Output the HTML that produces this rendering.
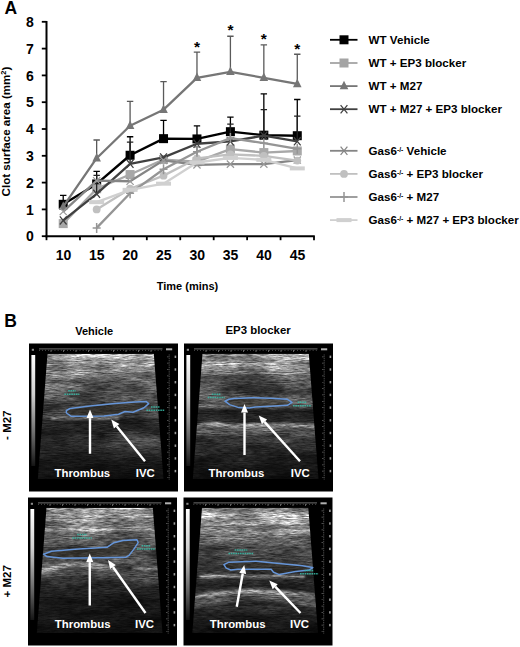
<!DOCTYPE html>
<html><head><meta charset="utf-8"><style>
html,body{margin:0;padding:0;background:#fff;}
svg{display:block;}
text{font-family:"Liberation Sans",sans-serif;}
</style></head><body>
<svg width="520" height="647" viewBox="0 0 520 647">
<rect width="520" height="647" fill="#fff"/>
<line x1="46.5" y1="20.999999999999982" x2="46.5" y2="237.2" stroke="#000" stroke-width="2"/>
<line x1="45.5" y1="236.2" x2="314.8" y2="236.2" stroke="#000" stroke-width="2"/>
<line x1="41.8" y1="236.20" x2="46.5" y2="236.20" stroke="#000" stroke-width="1.8"/>
<text x="33.8" y="241.30" text-anchor="end" font-size="14" font-weight="bold" >0</text>
<line x1="41.8" y1="209.40" x2="46.5" y2="209.40" stroke="#000" stroke-width="1.8"/>
<text x="33.8" y="214.50" text-anchor="end" font-size="14" font-weight="bold" >1</text>
<line x1="41.8" y1="182.60" x2="46.5" y2="182.60" stroke="#000" stroke-width="1.8"/>
<text x="33.8" y="187.70" text-anchor="end" font-size="14" font-weight="bold" >2</text>
<line x1="41.8" y1="155.80" x2="46.5" y2="155.80" stroke="#000" stroke-width="1.8"/>
<text x="33.8" y="160.90" text-anchor="end" font-size="14" font-weight="bold" >3</text>
<line x1="41.8" y1="129.00" x2="46.5" y2="129.00" stroke="#000" stroke-width="1.8"/>
<text x="33.8" y="134.10" text-anchor="end" font-size="14" font-weight="bold" >4</text>
<line x1="41.8" y1="102.20" x2="46.5" y2="102.20" stroke="#000" stroke-width="1.8"/>
<text x="33.8" y="107.30" text-anchor="end" font-size="14" font-weight="bold" >5</text>
<line x1="41.8" y1="75.40" x2="46.5" y2="75.40" stroke="#000" stroke-width="1.8"/>
<text x="33.8" y="80.50" text-anchor="end" font-size="14" font-weight="bold" >6</text>
<line x1="41.8" y1="48.60" x2="46.5" y2="48.60" stroke="#000" stroke-width="1.8"/>
<text x="33.8" y="53.70" text-anchor="end" font-size="14" font-weight="bold" >7</text>
<line x1="41.8" y1="21.80" x2="46.5" y2="21.80" stroke="#000" stroke-width="1.8"/>
<text x="33.8" y="26.90" text-anchor="end" font-size="14" font-weight="bold" >8</text>
<line x1="46.50" y1="236.2" x2="46.50" y2="240.2" stroke="#000" stroke-width="1.8"/>
<line x1="79.94" y1="236.2" x2="79.94" y2="240.2" stroke="#000" stroke-width="1.8"/>
<line x1="113.38" y1="236.2" x2="113.38" y2="240.2" stroke="#000" stroke-width="1.8"/>
<line x1="146.81" y1="236.2" x2="146.81" y2="240.2" stroke="#000" stroke-width="1.8"/>
<line x1="180.25" y1="236.2" x2="180.25" y2="240.2" stroke="#000" stroke-width="1.8"/>
<line x1="213.69" y1="236.2" x2="213.69" y2="240.2" stroke="#000" stroke-width="1.8"/>
<line x1="247.12" y1="236.2" x2="247.12" y2="240.2" stroke="#000" stroke-width="1.8"/>
<line x1="280.56" y1="236.2" x2="280.56" y2="240.2" stroke="#000" stroke-width="1.8"/>
<line x1="314.00" y1="236.2" x2="314.00" y2="240.2" stroke="#000" stroke-width="1.8"/>
<text x="63.42" y="259.6" text-anchor="middle" font-size="14" font-weight="bold" >10</text>
<text x="96.86" y="259.6" text-anchor="middle" font-size="14" font-weight="bold" >15</text>
<text x="130.29" y="259.6" text-anchor="middle" font-size="14" font-weight="bold" >20</text>
<text x="163.73" y="259.6" text-anchor="middle" font-size="14" font-weight="bold" >25</text>
<text x="197.17" y="259.6" text-anchor="middle" font-size="14" font-weight="bold" >30</text>
<text x="230.61" y="259.6" text-anchor="middle" font-size="14" font-weight="bold" >35</text>
<text x="264.04" y="259.6" text-anchor="middle" font-size="14" font-weight="bold" >40</text>
<text x="297.48" y="259.6" text-anchor="middle" font-size="14" font-weight="bold" >45</text>
<text x="187.5" y="290.2" text-anchor="middle" font-size="11" font-weight="bold" >Time (mins)</text>
<text transform="translate(10,131.5) rotate(-90)" text-anchor="middle" font-size="11.6" font-weight="bold" >Clot surface area (mm<tspan font-size="7.5" dy="-4">2</tspan><tspan dy="4">)</tspan></text>
<text x="4.5" y="13.8" font-size="17.5" font-weight="bold" >A</text>
<text x="4.3" y="326.6" font-size="17.5" font-weight="bold" >B</text>
<path d="M63.22 195.46V204.31M60.02 195.46H66.42" stroke="#000" stroke-width="1.3" fill="none"/>
<path d="M96.66 171.34V183.94M93.46 171.34H99.86" stroke="#000" stroke-width="1.3" fill="none"/>
<path d="M130.09 136.77V155.26M126.89 136.77H133.29" stroke="#000" stroke-width="1.3" fill="none"/>
<path d="M163.53 120.42V138.65M160.33 120.42H166.73" stroke="#000" stroke-width="1.3" fill="none"/>
<path d="M196.97 125.78V138.92M193.77 125.78H200.17" stroke="#000" stroke-width="1.3" fill="none"/>
<path d="M230.41 117.21V131.68M227.21 117.21H233.61" stroke="#000" stroke-width="1.3" fill="none"/>
<path d="M263.84 93.89V135.16M260.64 93.89H267.04" stroke="#000" stroke-width="1.3" fill="none"/>
<path d="M297.28 99.52V135.70M294.08 99.52H300.48" stroke="#000" stroke-width="1.3" fill="none"/>
<path d="M63.22 204.31 L96.66 183.94 L130.09 155.26 L163.53 138.65 L196.97 138.92 L230.41 131.68 L263.84 135.16 L297.28 135.70" stroke="#000000" stroke-width="2.4" fill="none" stroke-linejoin="round"/>
<rect x="58.72" y="199.81" width="9.0" height="9.0" fill="#000000"/>
<rect x="92.16" y="179.44" width="9.0" height="9.0" fill="#000000"/>
<rect x="125.59" y="150.76" width="9.0" height="9.0" fill="#000000"/>
<rect x="159.03" y="134.15" width="9.0" height="9.0" fill="#000000"/>
<rect x="192.47" y="134.42" width="9.0" height="9.0" fill="#000000"/>
<rect x="225.91" y="127.18" width="9.0" height="9.0" fill="#000000"/>
<rect x="259.34" y="130.66" width="9.0" height="9.0" fill="#000000"/>
<rect x="292.78" y="131.20" width="9.0" height="9.0" fill="#000000"/>
<path d="M63.22 223.60 L96.66 188.76 L130.09 174.56 L163.53 159.55 L196.97 161.70 L230.41 149.10 L263.84 152.58 L297.28 150.98" stroke="#a8a8a8" stroke-width="2.3" fill="none" stroke-linejoin="round"/>
<rect x="58.72" y="219.10" width="9.0" height="9.0" fill="#a8a8a8"/>
<rect x="92.16" y="184.26" width="9.0" height="9.0" fill="#a8a8a8"/>
<rect x="125.59" y="170.06" width="9.0" height="9.0" fill="#a8a8a8"/>
<rect x="159.03" y="155.05" width="9.0" height="9.0" fill="#a8a8a8"/>
<rect x="192.47" y="157.20" width="9.0" height="9.0" fill="#a8a8a8"/>
<rect x="225.91" y="144.60" width="9.0" height="9.0" fill="#a8a8a8"/>
<rect x="259.34" y="148.08" width="9.0" height="9.0" fill="#a8a8a8"/>
<rect x="292.78" y="146.48" width="9.0" height="9.0" fill="#a8a8a8"/>
<path d="M96.66 139.99V158.21M93.46 139.99H99.86" stroke="#5a5a5a" stroke-width="1.3" fill="none"/>
<path d="M130.09 101.40V125.78M126.89 101.40H133.29" stroke="#5a5a5a" stroke-width="1.3" fill="none"/>
<path d="M163.53 81.56V109.70M160.33 81.56H166.73" stroke="#5a5a5a" stroke-width="1.3" fill="none"/>
<path d="M196.97 52.08V77.81M193.77 52.08H200.17" stroke="#5a5a5a" stroke-width="1.3" fill="none"/>
<path d="M230.41 36.27V71.92M227.21 36.27H233.61" stroke="#5a5a5a" stroke-width="1.3" fill="none"/>
<path d="M263.84 44.85V77.81M260.64 44.85H267.04" stroke="#5a5a5a" stroke-width="1.3" fill="none"/>
<path d="M297.28 54.23V83.98M294.08 54.23H300.48" stroke="#5a5a5a" stroke-width="1.3" fill="none"/>
<path d="M63.22 206.72 L96.66 158.21 L130.09 125.78 L163.53 109.70 L196.97 77.81 L230.41 71.92 L263.84 77.81 L297.28 83.98" stroke="#767676" stroke-width="2.3" fill="none" stroke-linejoin="round"/>
<path d="M63.22 201.42 L67.52 209.92 L58.92 209.92Z" fill="#767676"/>
<path d="M96.66 152.91 L100.96 161.41 L92.36 161.41Z" fill="#767676"/>
<path d="M130.09 120.48 L134.39 128.98 L125.79 128.98Z" fill="#767676"/>
<path d="M163.53 104.40 L167.83 112.90 L159.23 112.90Z" fill="#767676"/>
<path d="M196.97 72.51 L201.27 81.01 L192.67 81.01Z" fill="#767676"/>
<path d="M230.41 66.62 L234.71 75.12 L226.11 75.12Z" fill="#767676"/>
<path d="M263.84 72.51 L268.14 81.01 L259.54 81.01Z" fill="#767676"/>
<path d="M297.28 78.68 L301.58 87.18 L292.98 87.18Z" fill="#767676"/>
<path d="M96.66 175.36V193.86M93.46 175.36H99.86" stroke="#222" stroke-width="1.3" fill="none"/>
<path d="M130.09 142.13V163.84M126.89 142.13H133.29" stroke="#222" stroke-width="1.3" fill="none"/>
<path d="M230.41 124.18V141.33M227.21 124.18H233.61" stroke="#222" stroke-width="1.3" fill="none"/>
<path d="M263.84 109.70V135.70M260.64 109.70H267.04" stroke="#222" stroke-width="1.3" fill="none"/>
<path d="M297.28 116.14V141.33M294.08 116.14H300.48" stroke="#222" stroke-width="1.3" fill="none"/>
<path d="M63.22 220.39 L96.66 193.86 L130.09 163.84 L163.53 157.41 L196.97 143.74 L230.41 141.33 L263.84 135.70 L297.28 141.33" stroke="#404040" stroke-width="2.3" fill="none" stroke-linejoin="round"/>
<path d="M59.82 216.29L66.62 224.49M66.62 216.29L59.82 224.49" stroke="#404040" stroke-width="1.25"/>
<path d="M93.26 189.76L100.06 197.96M100.06 189.76L93.26 197.96" stroke="#404040" stroke-width="1.25"/>
<path d="M126.69 159.74L133.49 167.94M133.49 159.74L126.69 167.94" stroke="#404040" stroke-width="1.25"/>
<path d="M160.13 153.31L166.93 161.51M166.93 153.31L160.13 161.51" stroke="#404040" stroke-width="1.25"/>
<path d="M193.57 139.64L200.37 147.84M200.37 139.64L193.57 147.84" stroke="#404040" stroke-width="1.25"/>
<path d="M227.01 137.23L233.81 145.43M233.81 137.23L227.01 145.43" stroke="#404040" stroke-width="1.25"/>
<path d="M260.44 131.60L267.24 139.80M267.24 131.60L260.44 139.80" stroke="#404040" stroke-width="1.25"/>
<path d="M293.88 137.23L300.68 145.43M300.68 137.23L293.88 145.43" stroke="#404040" stroke-width="1.25"/>
<path d="M196.97 146.96V164.91M193.77 146.96H200.17" stroke="#666" stroke-width="1.3" fill="none"/>
<path d="M63.22 211.54 L96.66 180.72 L130.09 181.26 L163.53 160.36 L196.97 164.91 L230.41 164.11 L263.84 164.11 L297.28 160.09" stroke="#858585" stroke-width="2.3" fill="none" stroke-linejoin="round"/>
<path d="M59.62 207.94L66.82 215.14M66.82 207.94L59.62 215.14" stroke="#999" stroke-width="1.2"/>
<path d="M93.06 177.12L100.26 184.32M100.26 177.12L93.06 184.32" stroke="#999" stroke-width="1.2"/>
<path d="M126.49 177.66L133.69 184.86M133.69 177.66L126.49 184.86" stroke="#999" stroke-width="1.2"/>
<path d="M159.93 156.76L167.13 163.96M167.13 156.76L159.93 163.96" stroke="#999" stroke-width="1.2"/>
<path d="M193.37 161.31L200.57 168.51M200.57 161.31L193.37 168.51" stroke="#999" stroke-width="1.2"/>
<path d="M226.81 160.51L234.01 167.71M234.01 160.51L226.81 167.71" stroke="#999" stroke-width="1.2"/>
<path d="M260.24 160.51L267.44 167.71M267.44 160.51L260.24 167.71" stroke="#999" stroke-width="1.2"/>
<path d="M293.68 156.49L300.88 163.69M300.88 156.49L293.68 163.69" stroke="#999" stroke-width="1.2"/>
<path d="M96.66 209.40 L130.09 188.76 L163.53 175.63 L196.97 158.48 L230.41 154.46 L263.84 155.80 L297.28 160.62" stroke="#c0c0c0" stroke-width="2.3" fill="none" stroke-linejoin="round"/>
<circle cx="96.66" cy="209.40" r="3.9" fill="#c0c0c0"/>
<circle cx="130.09" cy="188.76" r="3.9" fill="#c0c0c0"/>
<circle cx="163.53" cy="175.63" r="3.9" fill="#c0c0c0"/>
<circle cx="196.97" cy="158.48" r="3.9" fill="#c0c0c0"/>
<circle cx="230.41" cy="154.46" r="3.9" fill="#c0c0c0"/>
<circle cx="263.84" cy="155.80" r="3.9" fill="#c0c0c0"/>
<circle cx="297.28" cy="160.62" r="3.9" fill="#c0c0c0"/>
<path d="M96.66 227.89 L130.09 193.32 L163.53 169.20 L196.97 151.78 L230.41 138.11 L263.84 143.20 L297.28 148.83" stroke="#959595" stroke-width="2.3" fill="none" stroke-linejoin="round"/>
<path d="M96.66 222.89V232.89M92.66 227.89H100.66" stroke="#959595" stroke-width="1.5"/>
<path d="M130.09 188.32V198.32M126.09 193.32H134.09" stroke="#959595" stroke-width="1.5"/>
<path d="M163.53 164.20V174.20M159.53 169.20H167.53" stroke="#959595" stroke-width="1.5"/>
<path d="M196.97 146.78V156.78M192.97 151.78H200.97" stroke="#959595" stroke-width="1.5"/>
<path d="M230.41 133.11V143.11M226.41 138.11H234.41" stroke="#959595" stroke-width="1.5"/>
<path d="M263.84 138.20V148.20M259.84 143.20H267.84" stroke="#959595" stroke-width="1.5"/>
<path d="M297.28 143.83V153.83M293.28 148.83H301.28" stroke="#959595" stroke-width="1.5"/>
<path d="M96.66 202.16 L130.09 189.84 L163.53 183.67 L196.97 162.50 L230.41 157.94 L263.84 159.82 L297.28 168.40" stroke="#d0d0d0" stroke-width="2.3" fill="none" stroke-linejoin="round"/>
<rect x="89.16" y="200.16" width="15" height="4" fill="#d0d0d0"/>
<rect x="122.59" y="187.84" width="15" height="4" fill="#d0d0d0"/>
<rect x="156.03" y="181.67" width="15" height="4" fill="#d0d0d0"/>
<rect x="189.47" y="160.50" width="15" height="4" fill="#d0d0d0"/>
<rect x="222.91" y="155.94" width="15" height="4" fill="#d0d0d0"/>
<rect x="256.34" y="157.82" width="15" height="4" fill="#d0d0d0"/>
<rect x="289.78" y="166.40" width="15" height="4" fill="#d0d0d0"/>
<text x="196.97" y="52.30" text-anchor="middle" font-size="15.5" font-weight="bold" >*</text>
<text x="230.41" y="35.30" text-anchor="middle" font-size="15.5" font-weight="bold" >*</text>
<text x="263.84" y="43.90" text-anchor="middle" font-size="15.5" font-weight="bold" >*</text>
<text x="297.28" y="53.60" text-anchor="middle" font-size="15.5" font-weight="bold" >*</text>
<line x1="330" y1="39.80" x2="357.5" y2="39.80" stroke="#000000" stroke-width="1.8"/>
<rect x="339.50" y="35.30" width="9.0" height="9.0" fill="#000000"/>
<text x="368.6" y="44.00" font-size="11.6" font-weight="bold" >WT Vehicle</text>
<line x1="330" y1="63.00" x2="357.5" y2="63.00" stroke="#a4a4a4" stroke-width="1.8"/>
<rect x="339.50" y="58.50" width="9.0" height="9.0" fill="#a4a4a4"/>
<text x="368.6" y="67.20" font-size="11.6" font-weight="bold" >WT + EP3 blocker</text>
<line x1="330" y1="86.10" x2="357.5" y2="86.10" stroke="#767676" stroke-width="1.8"/>
<path d="M344.00 80.80 L348.30 89.30 L339.70 89.30Z" fill="#767676"/>
<text x="368.6" y="90.30" font-size="11.6" font-weight="bold" >WT + M27</text>
<line x1="330" y1="109.20" x2="357.5" y2="109.20" stroke="#404040" stroke-width="1.8"/>
<path d="M340.60 105.10L347.40 113.30M347.40 105.10L340.60 113.30" stroke="#404040" stroke-width="1.25"/>
<text x="368.6" y="113.40" font-size="11.6" font-weight="bold" >WT + M27 + EP3 blocker</text>
<line x1="330" y1="150.80" x2="357.5" y2="150.80" stroke="#858585" stroke-width="1.8"/>
<path d="M340.60 146.70L347.40 154.90M347.40 146.70L340.60 154.90" stroke="#858585" stroke-width="1.25"/>
<text x="368.6" y="155.00" font-size="11.6" font-weight="bold" >Gas6<tspan font-size="6.8" dy="-3.4">-/-</tspan><tspan dy="3.4"> Vehicle</tspan></text>
<line x1="330" y1="173.90" x2="357.5" y2="173.90" stroke="#c0c0c0" stroke-width="1.8"/>
<circle cx="344.00" cy="173.90" r="3.9" fill="#c0c0c0"/>
<text x="368.6" y="178.10" font-size="11.6" font-weight="bold" >Gas6<tspan font-size="6.8" dy="-3.4">-/-</tspan><tspan dy="3.4"> + EP3 blocker</tspan></text>
<line x1="330" y1="197.00" x2="357.5" y2="197.00" stroke="#959595" stroke-width="1.8"/>
<path d="M344.00 192.00V202.00M340.00 197.00H348.00" stroke="#959595" stroke-width="1.5"/>
<text x="368.6" y="201.20" font-size="11.6" font-weight="bold" >Gas6<tspan font-size="6.8" dy="-3.4">-/-</tspan><tspan dy="3.4"> + M27</tspan></text>
<line x1="330" y1="220.10" x2="357.5" y2="220.10" stroke="#d0d0d0" stroke-width="1.8"/>
<rect x="336.50" y="218.10" width="15" height="4" fill="#d0d0d0"/>
<text x="368.6" y="224.30" font-size="11.6" font-weight="bold" >Gas6<tspan font-size="6.8" dy="-3.4">-/-</tspan><tspan dy="3.4"> + M27 + EP3 blocker</tspan></text>
<text x="94.2" y="334.5" text-anchor="middle" font-size="11" font-weight="bold" >Vehicle</text>
<text x="258.1" y="333.8" text-anchor="middle" font-size="11.4" font-weight="bold" >EP3 blocker</text>
<text transform="translate(11.1,425.2) rotate(-90)" text-anchor="middle" font-size="11.5" font-weight="bold" ><tspan dy="-1.2">-</tspan><tspan dy="1.2"> M27</tspan></text>
<text transform="translate(11.1,581.3) rotate(-90)" text-anchor="middle" font-size="11.5" font-weight="bold" >+ M27</text>
<defs><linearGradient id="gbar" x1="0" y1="0" x2="0" y2="1"><stop offset="0" stop-color="#fff"/><stop offset="0.35" stop-color="#d0d0d0"/><stop offset="0.75" stop-color="#606060"/><stop offset="1" stop-color="#151515"/></linearGradient><filter id="spk0" x="0" y="0" width="1" height="1" color-interpolation-filters="sRGB">
<feTurbulence type="fractalNoise" baseFrequency="0.13 0.9" numOctaves="3" seed="7" result="n"/>
<feColorMatrix in="n" type="matrix" values="1 0 0 0 0  1 0 0 0 0  1 0 0 0 0  0 0 0 0 1" result="g"/>
<feGaussianBlur in="g" stdDeviation="0.35" result="gb"/><feComponentTransfer in="gb" result="g2"><feFuncR type="linear" slope="1.35" intercept="-0.17"/><feFuncG type="linear" slope="1.35" intercept="-0.17"/><feFuncB type="linear" slope="1.35" intercept="-0.17"/></feComponentTransfer>
<feComposite in="SourceGraphic" in2="g2" operator="arithmetic" k1="1.0" k2="0.5" k3="0" k4="0" result="s1"/>
<feTurbulence type="fractalNoise" baseFrequency="0.025 0.11" numOctaves="2" seed="31" result="m"/>
<feColorMatrix in="m" type="matrix" values="1 0 0 0 0  1 0 0 0 0  1 0 0 0 0  0 0 0 0 1" result="mg"/>
<feComponentTransfer in="mg" result="mg2"><feFuncR type="linear" slope="1.3" intercept="-0.15"/><feFuncG type="linear" slope="1.3" intercept="-0.15"/><feFuncB type="linear" slope="1.3" intercept="-0.15"/></feComponentTransfer>
<feComposite in="s1" in2="mg2" operator="arithmetic" k1="1.0" k2="0.5" k3="0" k4="0"/>
</filter><filter id="spk1" x="0" y="0" width="1" height="1" color-interpolation-filters="sRGB">
<feTurbulence type="fractalNoise" baseFrequency="0.13 0.9" numOctaves="3" seed="12" result="n"/>
<feColorMatrix in="n" type="matrix" values="1 0 0 0 0  1 0 0 0 0  1 0 0 0 0  0 0 0 0 1" result="g"/>
<feGaussianBlur in="g" stdDeviation="0.35" result="gb"/><feComponentTransfer in="gb" result="g2"><feFuncR type="linear" slope="1.35" intercept="-0.17"/><feFuncG type="linear" slope="1.35" intercept="-0.17"/><feFuncB type="linear" slope="1.35" intercept="-0.17"/></feComponentTransfer>
<feComposite in="SourceGraphic" in2="g2" operator="arithmetic" k1="1.0" k2="0.5" k3="0" k4="0" result="s1"/>
<feTurbulence type="fractalNoise" baseFrequency="0.025 0.11" numOctaves="2" seed="38" result="m"/>
<feColorMatrix in="m" type="matrix" values="1 0 0 0 0  1 0 0 0 0  1 0 0 0 0  0 0 0 0 1" result="mg"/>
<feComponentTransfer in="mg" result="mg2"><feFuncR type="linear" slope="1.3" intercept="-0.15"/><feFuncG type="linear" slope="1.3" intercept="-0.15"/><feFuncB type="linear" slope="1.3" intercept="-0.15"/></feComponentTransfer>
<feComposite in="s1" in2="mg2" operator="arithmetic" k1="1.0" k2="0.5" k3="0" k4="0"/>
</filter><filter id="spk2" x="0" y="0" width="1" height="1" color-interpolation-filters="sRGB">
<feTurbulence type="fractalNoise" baseFrequency="0.13 0.9" numOctaves="3" seed="17" result="n"/>
<feColorMatrix in="n" type="matrix" values="1 0 0 0 0  1 0 0 0 0  1 0 0 0 0  0 0 0 0 1" result="g"/>
<feGaussianBlur in="g" stdDeviation="0.35" result="gb"/><feComponentTransfer in="gb" result="g2"><feFuncR type="linear" slope="1.35" intercept="-0.17"/><feFuncG type="linear" slope="1.35" intercept="-0.17"/><feFuncB type="linear" slope="1.35" intercept="-0.17"/></feComponentTransfer>
<feComposite in="SourceGraphic" in2="g2" operator="arithmetic" k1="1.0" k2="0.5" k3="0" k4="0" result="s1"/>
<feTurbulence type="fractalNoise" baseFrequency="0.025 0.11" numOctaves="2" seed="45" result="m"/>
<feColorMatrix in="m" type="matrix" values="1 0 0 0 0  1 0 0 0 0  1 0 0 0 0  0 0 0 0 1" result="mg"/>
<feComponentTransfer in="mg" result="mg2"><feFuncR type="linear" slope="1.3" intercept="-0.15"/><feFuncG type="linear" slope="1.3" intercept="-0.15"/><feFuncB type="linear" slope="1.3" intercept="-0.15"/></feComponentTransfer>
<feComposite in="s1" in2="mg2" operator="arithmetic" k1="1.0" k2="0.5" k3="0" k4="0"/>
</filter><filter id="spk3" x="0" y="0" width="1" height="1" color-interpolation-filters="sRGB">
<feTurbulence type="fractalNoise" baseFrequency="0.13 0.9" numOctaves="3" seed="22" result="n"/>
<feColorMatrix in="n" type="matrix" values="1 0 0 0 0  1 0 0 0 0  1 0 0 0 0  0 0 0 0 1" result="g"/>
<feGaussianBlur in="g" stdDeviation="0.35" result="gb"/><feComponentTransfer in="gb" result="g2"><feFuncR type="linear" slope="1.35" intercept="-0.17"/><feFuncG type="linear" slope="1.35" intercept="-0.17"/><feFuncB type="linear" slope="1.35" intercept="-0.17"/></feComponentTransfer>
<feComposite in="SourceGraphic" in2="g2" operator="arithmetic" k1="1.0" k2="0.5" k3="0" k4="0" result="s1"/>
<feTurbulence type="fractalNoise" baseFrequency="0.025 0.11" numOctaves="2" seed="52" result="m"/>
<feColorMatrix in="m" type="matrix" values="1 0 0 0 0  1 0 0 0 0  1 0 0 0 0  0 0 0 0 1" result="mg"/>
<feComponentTransfer in="mg" result="mg2"><feFuncR type="linear" slope="1.3" intercept="-0.15"/><feFuncG type="linear" slope="1.3" intercept="-0.15"/><feFuncB type="linear" slope="1.3" intercept="-0.15"/></feComponentTransfer>
<feComposite in="s1" in2="mg2" operator="arithmetic" k1="1.0" k2="0.5" k3="0" k4="0"/>
</filter><filter id="bl" x="-20%" y="-50%" width="140%" height="200%"><feGaussianBlur stdDeviation="1.2"/></filter><filter id="bl5" x="-50%" y="-100%" width="200%" height="300%"><feGaussianBlur stdDeviation="5"/></filter></defs>
<g transform="translate(29,343.5)"><rect x="0" y="0" width="149" height="148" fill="#000"/><defs><linearGradient id="pf0" gradientUnits="userSpaceOnUse" x1="0" y1="0" x2="0" y2="148"><stop offset="0.0709" stop-color="rgb(185,185,185)"/><stop offset="0.0912" stop-color="rgb(170,170,170)"/><stop offset="0.1115" stop-color="rgb(150,150,150)"/><stop offset="0.1453" stop-color="rgb(160,160,160)"/><stop offset="0.1655" stop-color="rgb(130,130,130)"/><stop offset="0.1926" stop-color="rgb(135,135,135)"/><stop offset="0.2196" stop-color="rgb(112,112,112)"/><stop offset="0.3142" stop-color="rgb(105,105,105)"/><stop offset="0.3818" stop-color="rgb(80,80,80)"/><stop offset="0.4223" stop-color="rgb(65,65,65)"/><stop offset="0.4628" stop-color="rgb(55,55,55)"/><stop offset="0.4966" stop-color="rgb(75,75,75)"/><stop offset="0.5169" stop-color="rgb(42,42,42)"/><stop offset="0.5845" stop-color="rgb(32,32,32)"/><stop offset="0.6520" stop-color="rgb(35,35,35)"/><stop offset="0.6993" stop-color="rgb(42,42,42)"/><stop offset="0.7331" stop-color="rgb(32,32,32)"/><stop offset="0.8142" stop-color="rgb(22,22,22)"/><stop offset="0.9088" stop-color="rgb(15,15,15)"/></linearGradient><clipPath id="tp0"><path d="M18.5 10.3 L124.8 10.3 L134.5 135.5 L8.8 135.5 Z"/></clipPath></defs><g clip-path="url(#tp0)"><g filter="url(#spk0)"><rect x="0" y="10" width="149" height="126" fill="url(#pf0)"/><g filter="url(#bl)"><ellipse cx="88" cy="44" rx="32" ry="9" fill="#000" opacity="0.4" filter="url(#bl5)"/><path d="M22 75 H90" stroke="#a4a4a4" stroke-width="2.6" fill="none"/><ellipse cx="108" cy="100" rx="30" ry="7" fill="#5a5a5a" filter="url(#bl5)"/></g></g></g><rect x="2.4" y="11.5" width="3.8" height="111" fill="url(#gbar)"/><rect x="2.8" y="5.3" width="2.2" height="2" fill="#8a8a8a"/><path d="M10 5.4 H133.5" stroke="#7c7c7c" stroke-width="0.9"/><path d="M10 6.8 H133.5" stroke="#5a5a5a" stroke-width="1.2" stroke-dasharray="0.7 2.425"/><path d="M21.6 7.6 H133" stroke="#777" stroke-width="2" stroke-dasharray="0.8 11.7"/><rect x="137" y="4.8" width="6.2" height="2" fill="#b0b0b0"/><path d="M140.2 11 V136" stroke="#5e5e5e" stroke-width="0.9" stroke-dasharray="1 0.8"/><path d="M138.8 13 V136" stroke="#666" stroke-width="1.6" stroke-dasharray="0.7 5.65"/><rect x="145.6" y="12.1" width="1.6" height="2.4" fill="#9a9a9a"/><rect x="145.6" y="24.8" width="1.6" height="2.4" fill="#9a9a9a"/><rect x="145.6" y="37.5" width="1.6" height="2.4" fill="#9a9a9a"/><rect x="145.6" y="50.2" width="1.6" height="2.4" fill="#9a9a9a"/><rect x="145.6" y="62.9" width="1.6" height="2.4" fill="#9a9a9a"/><rect x="145.6" y="75.6" width="1.6" height="2.4" fill="#9a9a9a"/><rect x="145.6" y="88.3" width="1.6" height="2.4" fill="#9a9a9a"/><rect x="145.6" y="101.0" width="1.6" height="2.4" fill="#9a9a9a"/><rect x="145.6" y="113.7" width="1.6" height="2.4" fill="#9a9a9a"/><rect x="145.6" y="126.4" width="1.6" height="2.4" fill="#9a9a9a"/><polygon points="37.40,67.00 41.00,65.00 61.00,62.50 86.00,60.00 106.00,58.50 117.00,57.90 119.70,60.10 115.00,64.30 104.00,68.70 96.00,68.00 89.50,70.70 75.00,72.50 42.00,72.70 37.40,69.50" fill="rgba(35,32,22,0.45)" stroke="#6695d8" stroke-width="1.5" stroke-linejoin="round"/><path d="M39.2 47.3H46.7M35.4 50.7H50.4" stroke="#38bca8" stroke-width="1.5" stroke-dasharray="1.6 0.7" opacity="0.85"/><path d="M122.0 63.4H131.0M117.5 66.8H135.5" stroke="#38bca8" stroke-width="1.5" stroke-dasharray="1.6 0.7" opacity="0.85"/><path d="M61.00 110.25 L61.00 74.60" stroke="#fff" stroke-width="2.4"/><path d="M61.00 66.00 L64.50 74.60 L57.50 74.60 Z" fill="#fff"/><path d="M116.00 117.75 L87.66 82.69" stroke="#fff" stroke-width="2.4"/><path d="M82.25 76.00 L90.38 80.49 L84.93 84.89 Z" fill="#fff"/><text x="25.50" y="133.10" font-size="11.4" font-weight="bold" fill="#fff">Thrombus</text><text x="106.80" y="133.10" font-size="11.4" font-weight="bold" fill="#fff">IVC</text></g>
<g transform="translate(184,343.5)"><rect x="0" y="0" width="149" height="148" fill="#000"/><defs><linearGradient id="pf1" gradientUnits="userSpaceOnUse" x1="0" y1="0" x2="0" y2="148"><stop offset="0.0709" stop-color="rgb(165,165,165)"/><stop offset="0.0878" stop-color="rgb(150,150,150)"/><stop offset="0.1014" stop-color="rgb(165,165,165)"/><stop offset="0.1182" stop-color="rgb(130,130,130)"/><stop offset="0.1419" stop-color="rgb(140,140,140)"/><stop offset="0.1791" stop-color="rgb(125,125,125)"/><stop offset="0.2027" stop-color="rgb(135,135,135)"/><stop offset="0.2331" stop-color="rgb(100,100,100)"/><stop offset="0.2804" stop-color="rgb(78,78,78)"/><stop offset="0.3277" stop-color="rgb(80,80,80)"/><stop offset="0.3682" stop-color="rgb(95,95,95)"/><stop offset="0.4020" stop-color="rgb(80,80,80)"/><stop offset="0.4291" stop-color="rgb(80,80,80)"/><stop offset="0.4561" stop-color="rgb(38,38,38)"/><stop offset="0.5304" stop-color="rgb(32,32,32)"/><stop offset="0.5574" stop-color="rgb(40,40,40)"/><stop offset="0.5980" stop-color="rgb(62,62,62)"/><stop offset="0.6520" stop-color="rgb(55,55,55)"/><stop offset="0.7061" stop-color="rgb(42,42,42)"/><stop offset="0.7601" stop-color="rgb(30,30,30)"/><stop offset="0.9088" stop-color="rgb(16,16,16)"/></linearGradient><clipPath id="tp1"><path d="M18.5 10.3 L124.8 10.3 L134.5 135.5 L8.8 135.5 Z"/></clipPath></defs><g clip-path="url(#tp1)"><g filter="url(#spk1)"><rect x="0" y="10" width="149" height="126" fill="url(#pf1)"/><g filter="url(#bl)"><ellipse cx="68" cy="41" rx="36" ry="9" fill="#000" opacity="0.45" filter="url(#bl5)"/><path d="M10 89 Q25 84 37.5 86 T62 87 T88 86 T115 87 T140 88" stroke="#5a5a5a" stroke-width="9" fill="none"/><path d="M10 83.5 Q25 79 37.5 81 T62 82 T88 81 T115 82 T140 83" stroke="#a0a0a0" stroke-width="3.2" fill="none"/><path d="M13 62.8 H40" stroke="#8c8c8c" stroke-width="2" fill="none"/></g></g></g><rect x="2.4" y="11.5" width="3.8" height="111" fill="url(#gbar)"/><rect x="2.8" y="5.3" width="2.2" height="2" fill="#8a8a8a"/><path d="M10 5.4 H133.5" stroke="#7c7c7c" stroke-width="0.9"/><path d="M10 6.8 H133.5" stroke="#5a5a5a" stroke-width="1.2" stroke-dasharray="0.7 2.425"/><path d="M21.6 7.6 H133" stroke="#777" stroke-width="2" stroke-dasharray="0.8 11.7"/><rect x="137" y="4.8" width="6.2" height="2" fill="#b0b0b0"/><path d="M140.2 11 V136" stroke="#5e5e5e" stroke-width="0.9" stroke-dasharray="1 0.8"/><path d="M138.8 13 V136" stroke="#666" stroke-width="1.6" stroke-dasharray="0.7 5.65"/><rect x="145.6" y="12.1" width="1.6" height="2.4" fill="#9a9a9a"/><rect x="145.6" y="24.8" width="1.6" height="2.4" fill="#9a9a9a"/><rect x="145.6" y="37.5" width="1.6" height="2.4" fill="#9a9a9a"/><rect x="145.6" y="50.2" width="1.6" height="2.4" fill="#9a9a9a"/><rect x="145.6" y="62.9" width="1.6" height="2.4" fill="#9a9a9a"/><rect x="145.6" y="75.6" width="1.6" height="2.4" fill="#9a9a9a"/><rect x="145.6" y="88.3" width="1.6" height="2.4" fill="#9a9a9a"/><rect x="145.6" y="101.0" width="1.6" height="2.4" fill="#9a9a9a"/><rect x="145.6" y="113.7" width="1.6" height="2.4" fill="#9a9a9a"/><rect x="145.6" y="126.4" width="1.6" height="2.4" fill="#9a9a9a"/><polygon points="41.00,57.70 45.00,55.80 50.30,54.90 68.70,54.20 86.00,54.80 103.40,55.80 108.00,58.80 103.40,61.80 86.00,62.80 71.00,63.50 65.30,64.60 54.90,64.10 45.60,61.10" fill="rgba(35,32,22,0.45)" stroke="#6695d8" stroke-width="1.5" stroke-linejoin="round"/><path d="M27.9 50.7H36.4M23.7 54.1H40.7" stroke="#38bca8" stroke-width="1.5" stroke-dasharray="1.6 0.7" opacity="0.85"/><path d="M113.6 58.8H122.9M109.0 62.2H127.5" stroke="#38bca8" stroke-width="1.5" stroke-dasharray="1.6 0.7" opacity="0.85"/><path d="M60.50 111.50 L60.50 69.10" stroke="#fff" stroke-width="2.4"/><path d="M60.50 60.50 L64.00 69.10 L57.00 69.10 Z" fill="#fff"/><path d="M116.00 117.75 L80.51 78.39" stroke="#fff" stroke-width="2.4"/><path d="M74.75 72.00 L83.11 76.04 L77.91 80.73 Z" fill="#fff"/><text x="24.60" y="133.10" font-size="11.4" font-weight="bold" fill="#fff">Thrombus</text><text x="106.80" y="133.10" font-size="11.4" font-weight="bold" fill="#fff">IVC</text></g>
<g transform="translate(28,497.5)"><rect x="0" y="0" width="149" height="148" fill="#000"/><defs><linearGradient id="pf2" gradientUnits="userSpaceOnUse" x1="0" y1="0" x2="0" y2="148"><stop offset="0.0709" stop-color="rgb(185,185,185)"/><stop offset="0.0878" stop-color="rgb(140,140,140)"/><stop offset="0.1081" stop-color="rgb(125,125,125)"/><stop offset="0.1250" stop-color="rgb(170,170,170)"/><stop offset="0.1385" stop-color="rgb(130,130,130)"/><stop offset="0.1520" stop-color="rgb(165,165,165)"/><stop offset="0.1689" stop-color="rgb(120,120,120)"/><stop offset="0.1892" stop-color="rgb(110,110,110)"/><stop offset="0.2196" stop-color="rgb(155,155,155)"/><stop offset="0.2365" stop-color="rgb(105,105,105)"/><stop offset="0.2703" stop-color="rgb(95,95,95)"/><stop offset="0.3041" stop-color="rgb(90,90,90)"/><stop offset="0.3378" stop-color="rgb(80,80,80)"/><stop offset="0.3784" stop-color="rgb(65,65,65)"/><stop offset="0.4088" stop-color="rgb(80,80,80)"/><stop offset="0.4358" stop-color="rgb(78,78,78)"/><stop offset="0.4628" stop-color="rgb(70,70,70)"/><stop offset="0.4899" stop-color="rgb(60,60,60)"/><stop offset="0.5236" stop-color="rgb(55,55,55)"/><stop offset="0.5777" stop-color="rgb(45,45,45)"/><stop offset="0.6250" stop-color="rgb(32,32,32)"/><stop offset="0.6926" stop-color="rgb(25,25,25)"/><stop offset="0.7939" stop-color="rgb(20,20,20)"/><stop offset="0.9088" stop-color="rgb(16,16,16)"/></linearGradient><clipPath id="tp2"><path d="M18.5 10.3 L124.8 10.3 L134.5 135.5 L8.8 135.5 Z"/></clipPath></defs><g clip-path="url(#tp2)"><g filter="url(#spk2)"><rect x="0" y="10" width="149" height="126" fill="url(#pf2)"/><g filter="url(#bl)"><path d="M10 79 Q47 68 90 76 T135 77" stroke="#4c4c4c" stroke-width="9" fill="none"/><path d="M12 74 Q47 61 88 72" stroke="#8e8e8e" stroke-width="4.5" fill="none"/><path d="M104 70.8 H132" stroke="#8a8a8a" stroke-width="3" fill="none"/></g></g></g><rect x="2.4" y="11.5" width="3.8" height="111" fill="url(#gbar)"/><rect x="2.8" y="5.3" width="2.2" height="2" fill="#8a8a8a"/><path d="M10 5.4 H133.5" stroke="#7c7c7c" stroke-width="0.9"/><path d="M10 6.8 H133.5" stroke="#5a5a5a" stroke-width="1.2" stroke-dasharray="0.7 2.425"/><path d="M21.6 7.6 H133" stroke="#777" stroke-width="2" stroke-dasharray="0.8 11.7"/><rect x="137" y="4.8" width="6.2" height="2" fill="#b0b0b0"/><path d="M140.2 11 V136" stroke="#5e5e5e" stroke-width="0.9" stroke-dasharray="1 0.8"/><path d="M138.8 13 V136" stroke="#666" stroke-width="1.6" stroke-dasharray="0.7 5.65"/><rect x="145.6" y="12.1" width="1.6" height="2.4" fill="#9a9a9a"/><rect x="145.6" y="24.8" width="1.6" height="2.4" fill="#9a9a9a"/><rect x="145.6" y="37.5" width="1.6" height="2.4" fill="#9a9a9a"/><rect x="145.6" y="50.2" width="1.6" height="2.4" fill="#9a9a9a"/><rect x="145.6" y="62.9" width="1.6" height="2.4" fill="#9a9a9a"/><rect x="145.6" y="75.6" width="1.6" height="2.4" fill="#9a9a9a"/><rect x="145.6" y="88.3" width="1.6" height="2.4" fill="#9a9a9a"/><rect x="145.6" y="101.0" width="1.6" height="2.4" fill="#9a9a9a"/><rect x="145.6" y="113.7" width="1.6" height="2.4" fill="#9a9a9a"/><rect x="145.6" y="126.4" width="1.6" height="2.4" fill="#9a9a9a"/><polygon points="15.50,56.70 23.50,53.70 47.00,51.80 79.00,49.80 86.00,45.20 95.00,42.90 109.00,42.20 110.20,45.20 105.50,52.10 101.00,57.90 97.50,59.80 69.70,60.20 35.00,60.70 19.00,59.10" fill="rgba(35,32,22,0.45)" stroke="#6695d8" stroke-width="1.5" stroke-linejoin="round"/><path d="M49.2 37.1H58.9M44.3 40.5H63.8" stroke="#38bca8" stroke-width="1.5" stroke-dasharray="1.6 0.7" opacity="0.85"/><path d="M113.6 48.2H122.9M109.0 51.6H127.5" stroke="#38bca8" stroke-width="1.5" stroke-dasharray="1.6 0.7" opacity="0.85"/><path d="M61.75 108.00 L61.75 64.60" stroke="#fff" stroke-width="2.4"/><path d="M61.75 56.00 L65.25 64.60 L58.25 64.60 Z" fill="#fff"/><path d="M117.50 115.50 L84.97 69.52" stroke="#fff" stroke-width="2.4"/><path d="M80.00 62.50 L87.82 67.50 L82.11 71.54 Z" fill="#fff"/><text x="26.80" y="130.70" font-size="11.4" font-weight="bold" fill="#fff">Thrombus</text><text x="107.00" y="130.70" font-size="11.4" font-weight="bold" fill="#fff">IVC</text></g>
<g transform="translate(183.5,497.5)"><rect x="0" y="0" width="149" height="148" fill="#000"/><defs><linearGradient id="pf3" gradientUnits="userSpaceOnUse" x1="0" y1="0" x2="0" y2="148"><stop offset="0.0709" stop-color="rgb(130,130,130)"/><stop offset="0.0878" stop-color="rgb(140,140,140)"/><stop offset="0.1081" stop-color="rgb(180,180,180)"/><stop offset="0.1318" stop-color="rgb(175,175,175)"/><stop offset="0.1486" stop-color="rgb(135,135,135)"/><stop offset="0.1757" stop-color="rgb(160,160,160)"/><stop offset="0.1926" stop-color="rgb(115,115,115)"/><stop offset="0.2095" stop-color="rgb(120,120,120)"/><stop offset="0.2365" stop-color="rgb(135,135,135)"/><stop offset="0.2635" stop-color="rgb(100,100,100)"/><stop offset="0.3041" stop-color="rgb(95,95,95)"/><stop offset="0.3378" stop-color="rgb(80,80,80)"/><stop offset="0.3784" stop-color="rgb(72,72,72)"/><stop offset="0.4358" stop-color="rgb(62,62,62)"/><stop offset="0.4899" stop-color="rgb(55,55,55)"/><stop offset="0.5169" stop-color="rgb(50,50,50)"/><stop offset="0.5439" stop-color="rgb(38,38,38)"/><stop offset="0.6115" stop-color="rgb(35,35,35)"/><stop offset="0.6520" stop-color="rgb(50,50,50)"/><stop offset="0.7061" stop-color="rgb(52,52,52)"/><stop offset="0.7466" stop-color="rgb(42,42,42)"/><stop offset="0.8007" stop-color="rgb(28,28,28)"/><stop offset="0.9088" stop-color="rgb(16,16,16)"/></linearGradient><clipPath id="tp3"><path d="M18.5 10.3 L124.8 10.3 L134.5 135.5 L8.8 135.5 Z"/></clipPath></defs><g clip-path="url(#tp3)"><g filter="url(#spk3)"><rect x="0" y="10" width="149" height="126" fill="url(#pf3)"/><g filter="url(#bl)"><path d="M16.5 78.6 H121" stroke="#a2a2a2" stroke-width="2.6" fill="none"/><path d="M8 106 Q71.5 92 140 106" stroke="#505050" stroke-width="10" fill="none"/><path d="M8 100.5 Q71.5 86 140 100.5" stroke="#929292" stroke-width="4" fill="none"/></g></g></g><rect x="2.4" y="11.5" width="3.8" height="111" fill="url(#gbar)"/><rect x="2.8" y="5.3" width="2.2" height="2" fill="#8a8a8a"/><path d="M10 5.4 H133.5" stroke="#7c7c7c" stroke-width="0.9"/><path d="M10 6.8 H133.5" stroke="#5a5a5a" stroke-width="1.2" stroke-dasharray="0.7 2.425"/><path d="M21.6 7.6 H133" stroke="#777" stroke-width="2" stroke-dasharray="0.8 11.7"/><rect x="137" y="4.8" width="6.2" height="2" fill="#b0b0b0"/><path d="M140.2 11 V136" stroke="#5e5e5e" stroke-width="0.9" stroke-dasharray="1 0.8"/><path d="M138.8 13 V136" stroke="#666" stroke-width="1.6" stroke-dasharray="0.7 5.65"/><rect x="145.6" y="12.1" width="1.6" height="2.4" fill="#9a9a9a"/><rect x="145.6" y="24.8" width="1.6" height="2.4" fill="#9a9a9a"/><rect x="145.6" y="37.5" width="1.6" height="2.4" fill="#9a9a9a"/><rect x="145.6" y="50.2" width="1.6" height="2.4" fill="#9a9a9a"/><rect x="145.6" y="62.9" width="1.6" height="2.4" fill="#9a9a9a"/><rect x="145.6" y="75.6" width="1.6" height="2.4" fill="#9a9a9a"/><rect x="145.6" y="88.3" width="1.6" height="2.4" fill="#9a9a9a"/><rect x="145.6" y="101.0" width="1.6" height="2.4" fill="#9a9a9a"/><rect x="145.6" y="113.7" width="1.6" height="2.4" fill="#9a9a9a"/><rect x="145.6" y="126.4" width="1.6" height="2.4" fill="#9a9a9a"/><polygon points="40.40,67.10 45.00,64.80 72.70,63.70 95.80,66.00 118.90,68.30 129.30,70.10 125.80,72.50 112.00,74.10 95.80,77.10 90.00,74.80 87.70,71.70 72.70,71.70 54.20,71.70 47.30,72.50 42.70,70.60" fill="rgba(35,32,22,0.45)" stroke="#6695d8" stroke-width="1.5" stroke-linejoin="round"/><path d="M51.2 52.5H63.8M45.0 55.9H70.0" stroke="#38bca8" stroke-width="1.5" stroke-dasharray="1.6 0.7" opacity="0.85"/><path d="M121.1 72.9H130.4M116.5 76.3H135.0" stroke="#38bca8" stroke-width="1.5" stroke-dasharray="1.6 0.7" opacity="0.85"/><path d="M53.25 109.25 L59.23 75.96" stroke="#fff" stroke-width="2.4"/><path d="M60.75 67.50 L62.67 76.58 L55.78 75.35 Z" fill="#fff"/><path d="M117.00 115.50 L91.71 89.20" stroke="#fff" stroke-width="2.4"/><path d="M85.75 83.00 L94.23 86.77 L89.19 91.63 Z" fill="#fff"/><text x="26.30" y="130.70" font-size="11.4" font-weight="bold" fill="#fff">Thrombus</text><text x="106.50" y="130.70" font-size="11.4" font-weight="bold" fill="#fff">IVC</text></g>
</svg>
</body></html>
